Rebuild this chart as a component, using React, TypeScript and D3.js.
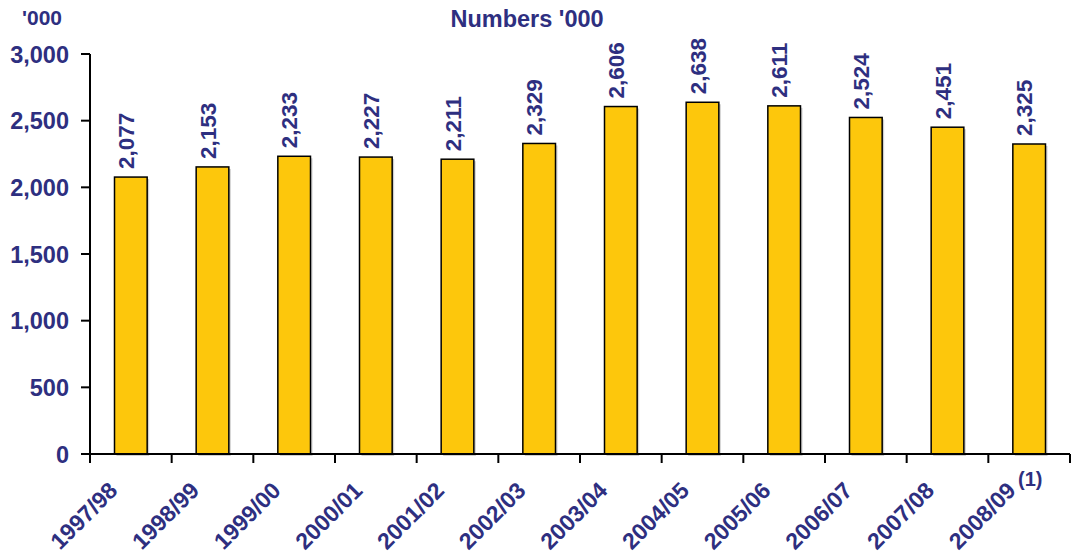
import React from "react";
import * as d3 from "d3";

const categories = ["1997/98","1998/99","1999/00","2000/01","2001/02","2002/03","2003/04","2004/05","2005/06","2006/07","2007/08","2008/09"];
const values = [2077,2153,2233,2227,2211,2329,2606,2638,2611,2524,2451,2325];
const yTicks = [0,500,1000,1500,2000,2500,3000];

const W = 1071, H = 558;
const left = 90, right = 1070, top = 54, bottom = 454;
const navy = "#2E2F80";
const font = "Liberation Sans, Arial, sans-serif";

export default function App() {
  const x = d3.scaleBand<string>().domain(categories).range([left, right]).paddingInner(0.6).paddingOuter(0.3);
  const xb = d3.scaleBand<string>().domain(categories).range([left, right]);
  const y = d3.scaleLinear().domain([0, 3000]).range([bottom, top]);
  const fmt = d3.format(",");
  const bw = x.bandwidth();
  return (
    <svg width={W} height={H} style={{ position: "absolute", left: 0, top: 0 }} fontFamily={font}>
      <rect width={W} height={H} fill="#fff" />
      <text x={527} y={27} textAnchor="middle" fontSize={23.5} fontWeight="bold" fill={navy}>Numbers '000</text>
      <text x={42} y={25} textAnchor="middle" fontSize={21} fontWeight="bold" fill={navy}>'000</text>
      {categories.map((c, i) => {
        const bx = x(c)!;
        const by = y(values[i]);
        const cx = bx + bw / 2;
        return (
          <g key={c}>
            <rect x={bx + 2} y={by + 2} width={bw} height={bottom - by} fill="#d0d0d0" />
            <rect x={bx} y={by} width={bw} height={bottom - by} fill="#FDC70C" stroke="#000" strokeWidth={1.5} />
            <text transform={`translate(${cx + 3},${by - 8}) rotate(-90)`} fontSize={22.5} fontWeight="bold" fill={navy}>{fmt(values[i])}</text>
            <text transform={`translate(${cx - 12},${bottom + 38}) rotate(-45)`} textAnchor="end" fontSize={23} fontWeight="bold" fill={navy}>{c}</text>
          </g>
        );
      })}
      <text x={1018} y={486} fontSize={20} fontWeight="bold" fill={navy}>(1)</text>
      <line x1={left} y1={top} x2={left} y2={bottom} stroke="#000" strokeWidth={2} />
      <line x1={left} y1={bottom} x2={right} y2={bottom} stroke="#000" strokeWidth={2} />
      {yTicks.map(t => (
        <g key={t}>
          <line x1={left - 9} x2={left} y1={y(t)} y2={y(t)} stroke="#000" strokeWidth={2} />
          <text x={69} y={y(t) + 8.5} textAnchor="end" fontSize={23.5} fontWeight="bold" fill={navy}>{fmt(t)}</text>
        </g>
      ))}
      {categories.map(c => xb(c)!).concat([right]).map((tx, i) => (
        <line key={i} x1={tx} x2={tx} y1={bottom} y2={bottom + 9} stroke="#000" strokeWidth={2} />
      ))}
    </svg>
  );
}
